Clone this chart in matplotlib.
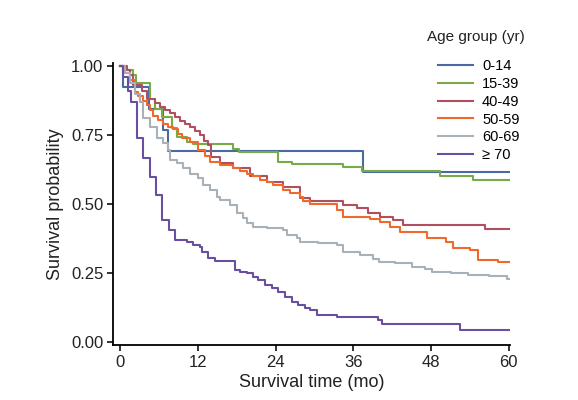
import numpy as np
import matplotlib
matplotlib.use("Agg")
import matplotlib.pyplot as plt

plt.rcParams['font.family'] = ['Liberation Sans', 'DejaVu Sans']

# Kaplan-Meier step data: time of each drop (months), survival after the drop
t_0_14 = [0, 0.5, 4.5, 6.6, 7.4, 37.5]
s_0_14 = [1.0, 0.923, 0.846, 0.769, 0.692, 0.615]

t_15_39 = [0, 0.8, 2.0, 2.5, 4.6, 5.4, 6.5, 8.0, 8.8, 10.3, 11.3, 17.5, 18.3,
           24.4, 26.5, 34.4, 37.3, 49.4, 54.5]
s_15_39 = [1.0, 0.985, 0.967, 0.94, 0.88, 0.845, 0.815, 0.775, 0.743, 0.725, 0.717,
           0.70, 0.688, 0.652, 0.645, 0.634, 0.62, 0.60, 0.587]

t_40_49 = [0, 1.1, 1.5, 2.0, 3.4, 4.2, 5.4, 6.2, 6.9, 7.7, 8.5, 9.3, 10.0, 10.8,
           11.6, 12.3, 13.0, 13.6, 14.0, 15.4, 17.4, 20.1, 22.7, 25.2, 27.8, 29.3,
           34.4, 36.6, 38.3, 40.1, 42.1, 43.7, 56.3]
s_40_49 = [1.0, 0.985, 0.967, 0.93, 0.91, 0.88, 0.866, 0.85, 0.84, 0.83, 0.815, 0.80,
           0.79, 0.78, 0.765, 0.75, 0.73, 0.714, 0.67, 0.65, 0.63, 0.60, 0.58, 0.56,
           0.52, 0.51, 0.496, 0.485, 0.467, 0.453, 0.442, 0.424, 0.41]

t_50_59 = [0, 0.8, 1.5, 2.3, 2.8, 3.5, 4.2, 4.6, 5.1, 5.9, 6.6, 7.4, 8.2, 9.0, 9.6,
           10.8, 12.0, 13.1, 13.9, 15.4, 17.4, 18.5, 19.6, 20.5, 21.6, 22.7, 23.6,
           25.2, 26.2, 27.8, 28.2, 29.3, 33.5, 34.4, 38.6, 40.1, 41.7, 43.2, 47.4,
           50.3, 51.4, 54.0, 55.3, 58.3]
s_50_59 = [1.0, 0.975, 0.95, 0.905, 0.89, 0.875, 0.86, 0.84, 0.82, 0.805, 0.79, 0.78,
           0.77, 0.755, 0.74, 0.725, 0.696, 0.675, 0.652, 0.64, 0.63, 0.62, 0.61, 0.60,
           0.587, 0.578, 0.57, 0.55, 0.54, 0.525, 0.51, 0.50, 0.478, 0.453, 0.445,
           0.435, 0.417, 0.40, 0.377, 0.362, 0.34, 0.333, 0.297, 0.29]

t_60_69 = [0, 0.8, 1.5, 2.3, 3.1, 3.5, 4.6, 5.7, 6.6, 7.4, 7.7, 8.8, 9.7, 10.8, 12.0,
           12.8, 13.9, 15.0, 15.4, 17.0, 18.1, 19.0, 19.6, 20.5, 22.7, 25.2, 25.8,
           27.3, 27.8, 30.6, 33.5, 34.4, 37.0, 39.0, 40.0, 42.5, 45.0, 47.1, 48.1,
           51.1, 53.7, 57.0, 59.7]
s_60_69 = [1.0, 0.975, 0.94, 0.90, 0.87, 0.81, 0.78, 0.74, 0.72, 0.696, 0.66, 0.65,
           0.63, 0.61, 0.594, 0.57, 0.55, 0.525, 0.514, 0.496, 0.467, 0.449, 0.43,
           0.417, 0.413, 0.406, 0.388, 0.377, 0.362, 0.359, 0.35, 0.326, 0.315, 0.30,
           0.29, 0.286, 0.272, 0.264, 0.254, 0.25, 0.243, 0.239, 0.228]

t_70 = [0, 0.5, 1.2, 1.7, 2.6, 3.5, 4.6, 5.6, 6.5, 7.6, 8.5, 10.3, 11.3, 12.3, 12.7,
        13.6, 14.7, 17.7, 18.5, 19.6, 20.5, 21.3, 22.4, 23.5, 24.4, 25.5, 26.5, 27.5,
        28.5, 29.3, 30.4, 33.5, 39.8, 40.4, 52.5]
s_70 = [1.0, 0.96, 0.91, 0.87, 0.74, 0.667, 0.598, 0.533, 0.442, 0.406, 0.37, 0.362,
        0.351, 0.344, 0.326, 0.304, 0.293, 0.261, 0.254, 0.25, 0.236, 0.225, 0.207,
        0.196, 0.181, 0.163, 0.145, 0.134, 0.123, 0.116, 0.098, 0.091, 0.08, 0.065,
        0.043]

groups = ["0-14", "15-39", "40-49", "50-59", "60-69", "\u2265 70"]
times = [t_0_14, t_15_39, t_40_49, t_50_59, t_60_69, t_70]
surv = [s_0_14, s_15_39, s_40_49, s_50_59, s_60_69, s_70]
colors = ["#4a6aa3", "#78ab48", "#b0505f", "#ee6a2c", "#a9b1b8", "#6a4fa0"]
t_end = 60

fig = plt.figure(figsize=(5.78, 4.0), dpi=100)
ax = fig.add_axes([113 / 578, 1 - 345 / 400, 397 / 578, 282 / 400])

for tt, ss, c, lab in zip(times, surv, colors, groups):
    x = list(tt) + [t_end]
    y = list(ss) + [ss[-1]]
    ax.step(x, y, where="post", color=c, lw=1.5, label=lab)

ax.set_xlim(-1.1, 60.2)
ax.set_ylim(-0.011, 1.011)
ax.set_xticks([0, 12, 24, 36, 48, 60])
ax.set_yticks([0, 0.25, 0.5, 0.75, 1.0])
ax.set_yticklabels(["0.00", "0.25", "0.50", "0.75", "1.00"])
ax.spines["top"].set_visible(False)
ax.spines["right"].set_visible(False)
for sp in ["left", "bottom"]:
    ax.spines[sp].set_linewidth(1.3)
ax.tick_params(direction="out", length=4, width=1.3, labelsize=12, colors="#222222", pad=3)
ax.set_xlabel("Survival time (mo)", fontsize=13, labelpad=3, color="#222222")
ax.set_ylabel("Survival probability", fontsize=13, labelpad=5, color="#222222")

fig.text(476 / 578, 1 - 37 / 400, "Age group (yr)", fontsize=11, ha="center",
         va="center", color="#222222")
leg = ax.legend(loc="upper left", bbox_to_anchor=(428 / 578, 1 - 49 / 400),
                bbox_transform=fig.transFigure, frameon=False, fontsize=10.5,
                handlelength=2.4, handletextpad=0.6, labelspacing=0.26, borderpad=0.2)
fig.savefig("out.png", dpi=100)
